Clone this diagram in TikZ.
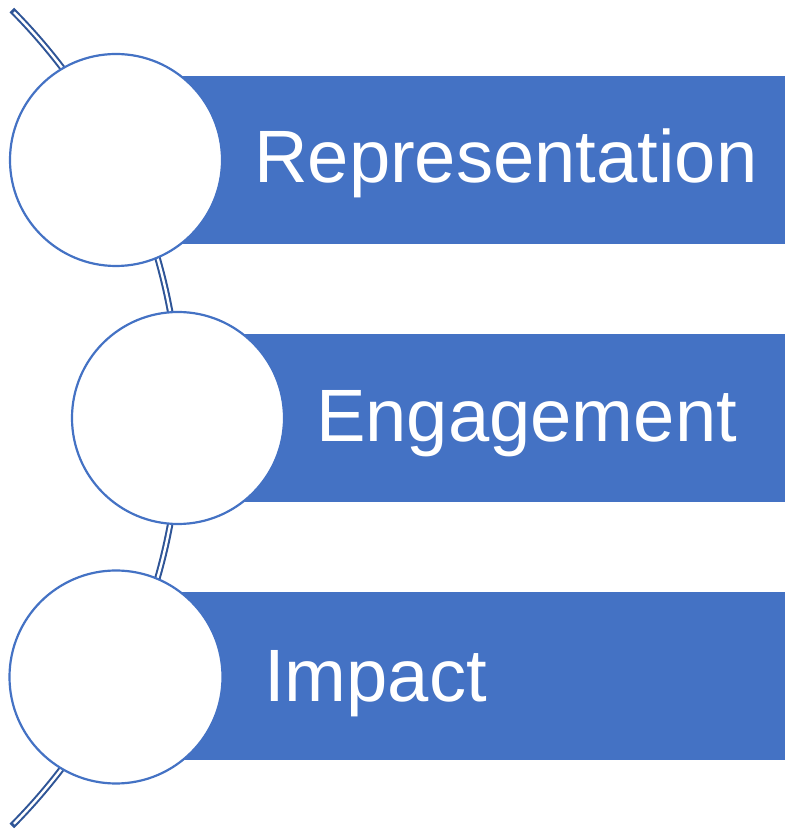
\documentclass[tikz,border=0pt]{standalone}
\usepackage{fontspec}
\setmainfont{Liberation Sans}
\definecolor{accent}{HTML}{4472C4}
\definecolor{arcdark}{HTML}{2F5597}
\begin{document}
\begin{tikzpicture}[x=1pt,y=1pt,
  bar/.style={fill=accent,draw=none},
  disc/.style={circle,draw=accent,line width=2.2pt,fill=white,inner sep=0pt},
  label/.style={anchor=base west,inner sep=0pt,text=white,font=\fontsize{74.2}{80}\selectfont}]
\useasboundingbox (0,0) rectangle (785,830);
\coordinate (ac) at (-399,412);
% connecting arc
\draw[arcdark,line width=6.5pt] ([shift={(-44.8:579)}]ac) arc[start angle=-44.8,end angle=44.8,radius=579];
\draw[white,line width=2.4pt] ([shift={(-44.5:579)}]ac) arc[start angle=-44.5,end angle=44.5,radius=579];
% bars
\fill[bar] (116,586) rectangle (785,754);
\fill[bar] (178,328) rectangle (785,496);
\fill[bar] (116,70) rectangle (785,238);
% circles
\node[disc,minimum size=212pt] (c1) at (116,670) {};
\node[disc,minimum size=212pt] (c2) at (178,412) {};
\node[disc,minimum size=213pt] (c3) at (116,153) {};
% labels
\node[label] (t1) at (254,647.7) {Representation};
\node[label] (t2) at (316,388.3) {Engagement};
\node[label] (t3) at (264,128.3) {Impact};
\end{tikzpicture}
\end{document}
